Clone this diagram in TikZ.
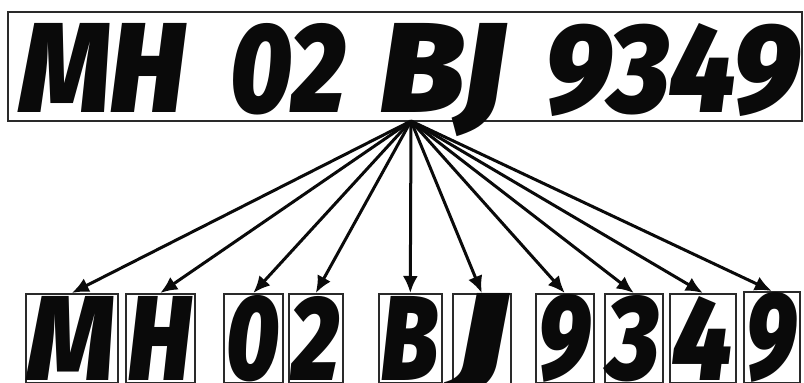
\documentclass[tikz,border=0pt]{standalone}
\usepackage{fontspec}
\usepackage{graphicx}
\usetikzlibrary{arrows.meta}
\IfFontExistsTF{Fira Sans Black Italic}
  {\newfontfamily\platefont{Fira Sans Black Italic}}
  {\newfontfamily\platefont{Liberation Sans Bold Italic}[FakeBold=2]}
\definecolor{PlateInk}{HTML}{0A0A0A}
\definecolor{PlateEdge}{HTML}{2A2A2A}
\newcommand{\platechar}[3]{\resizebox{#1pt}{#2pt}{\platefont #3}}

\begin{document}
\begin{tikzpicture}[x=1pt,y=-1pt,
    charbox/.style={draw=PlateEdge,line width=1.6pt,inner sep=0pt,anchor=north west,text=PlateInk},
    platetext/.style={inner sep=0pt,anchor=north west,text=PlateInk},
    splitarrow/.style={draw=PlateInk,line width=3pt,-{Latex[length=17pt,width=15pt]}}]
    \useasboundingbox (0,0) rectangle (804,383);
    \clip (0,0) rectangle (804,383);
    % number plate
    \draw[PlateEdge,line width=2pt] (8,12) rectangle (802,121);
    \node[platetext] (grpMH) at (20,23) {\platechar{165}{89}{MH}};
    \node[platetext] (grpZT) at (230,23) {\platechar{115}{89}{02}};
    \node[platetext] (grpBJ) at (380,23) {\platechar{125}{89}{BJ}};
    \node[platetext] (grpNum) at (545,23) {\platechar{255}{89}{9349}};
    \coordinate (hub) at (411,121);
    % segmented characters
    \node[charbox,minimum width=92pt,minimum height=89pt] (cM) at (25,293) {\platechar{86}{84}{M}};
    \node[charbox,minimum width=69pt,minimum height=89pt] (cH) at (125,293) {\platechar{63}{84}{H}};
    \node[charbox,minimum width=59pt,minimum height=89pt] (cZero) at (223,293) {\platechar{53}{84}{0}};
    \node[charbox,minimum width=54pt,minimum height=89pt] (cTwo) at (288,293) {\platechar{48}{84}{2}};
    \node[charbox,minimum width=63pt,minimum height=89pt] (cB) at (378,293) {\platechar{57}{84}{B}};
    \node[charbox,minimum width=58pt,minimum height=89pt] (cJ) at (452,293) {\platechar{52}{84}{J}};
    \node[charbox,minimum width=58pt,minimum height=89pt] (cNineA) at (535,293) {\platechar{52}{84}{9}};
    \node[charbox,minimum width=58pt,minimum height=89pt] (cThree) at (604,293) {\platechar{52}{84}{3}};
    \node[charbox,minimum width=66pt,minimum height=89pt] (cFour) at (669,293) {\platechar{60}{84}{4}};
    \node[charbox,minimum width=56pt,minimum height=91pt] (cNineB) at (743,291) {\platechar{50}{86}{9}};
    % arrows
    \foreach \c in {cM,cH,cZero,cTwo,cB,cJ,cNineA,cThree,cFour,cNineB}
        \draw[splitarrow] (hub) -- (\c.north);
\end{tikzpicture}
\end{document}
